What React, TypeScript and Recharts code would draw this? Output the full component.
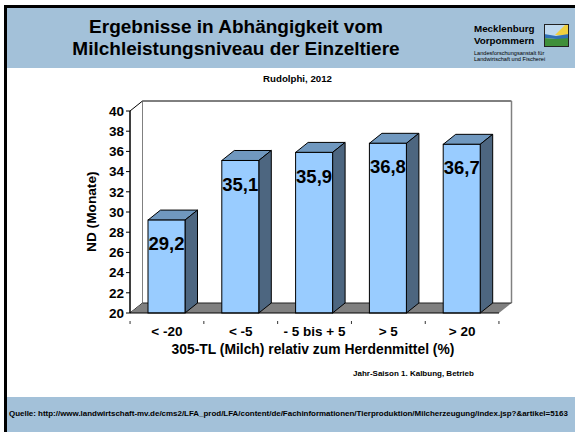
import React from "react";
import {
  BarChart,
  Bar,
  XAxis,
  YAxis,
  LabelList,
  Customized,
  usePlotArea,
} from "recharts";

const categories = ["< -20", "< -5", "- 5 bis + 5", "> 5", "> 20"];
const values = [29.2, 35.1, 35.9, 36.8, 36.7];
const yTicks = [20, 22, 24, 26, 28, 30, 32, 34, 36, 38, 40];

const data = categories.map((name, i) => ({ name, value: values[i] }));

const FONT = "'Liberation Sans', Arial, sans-serif";
const DX = 12.5;
const DY = 10;

const formatComma = (v: number) => v.toFixed(1).replace(".", ",");

// 3D walls behind the bars
function Walls() {
  const p = usePlotArea();
  if (!p) return null;
  const l = p.x;
  const r = p.x + p.width;
  const t = p.y;
  const b = p.y + p.height;
  return (
    <g>
      <polygon
        points={`${l},${t} ${l + DX},${t - DY} ${l + DX},${b - DY} ${l},${b}`}
        fill="#fff"
        stroke="#000"
      />
      <rect x={l + DX} y={t - DY} width={r - l} height={b - t} fill="#fff" />
      <line x1={l + DX} y1={t - DY} x2={r + DX} y2={t - DY} stroke="#000" />
      <line x1={r + DX} y1={t - DY} x2={r + DX} y2={b - DY} stroke="#808080" strokeWidth={1.5} />
      <polygon
        points={`${l},${b} ${l + DX},${b - DY} ${r + DX},${b - DY} ${r},${b}`}
        fill="#808080"
      />
      <line x1={l + DX} y1={b - DY} x2={r + DX} y2={b - DY} stroke="#222" />
    </g>
  );
}

function Bar3D(props: any) {
  const { x, y, width, height } = props;
  const r = x + width;
  const b = y + height;
  return (
    <g stroke="#000" strokeWidth={1}>
      <polygon
        points={`${x},${y} ${x + DX},${y - DY} ${r + DX},${y - DY} ${r},${y}`}
        fill="#7098BF"
      />
      <polygon
        points={`${r},${y} ${r + DX},${y - DY} ${r + DX},${b - DY} ${r},${b}`}
        fill="#4D6680"
      />
      <rect x={x} y={y} width={width} height={height} fill="#99CCFF" />
    </g>
  );
}

function XTick(props: any) {
  const { x, y, payload, index } = props;
  const half = 73.7 / 2;
  return (
    <g>
      <line x1={x - half} y1={y} x2={x - half} y2={y + 3} stroke="#333" />
      {index === categories.length - 1 && (
        <line x1={x + half} y1={y} x2={x + half} y2={y + 3} stroke="#333" />
      )}
      <text x={x} y={y + 15} textAnchor="middle" fontFamily={FONT} fontWeight="bold" fontSize={13.5} fill="#000">
        {payload.value}
      </text>
    </g>
  );
}

const txt = (extra: React.CSSProperties): React.CSSProperties => ({
  position: "absolute",
  fontFamily: FONT,
  fontWeight: "bold",
  color: "#000",
  whiteSpace: "nowrap",
  lineHeight: 1,
  ...extra,
});

export default function App() {
  return (
    <div style={{ position: "absolute", left: 0, top: 0, width: 575, height: 432, background: "#fff", overflow: "hidden" }}>
      {/* slide frame */}
      <div style={{ position: "absolute", left: 4, top: 5, width: 571, height: 3, background: "#000" }} />
      <div style={{ position: "absolute", left: 4, top: 5, width: 3, height: 427, background: "#000" }} />
      <div style={{ position: "absolute", left: 7, top: 8, width: 568, height: 60, background: "#A3C1D9" }} />
      <div style={{ position: "absolute", left: 7, top: 397, width: 568, height: 35, background: "#A3C1D9" }} />

      <div style={txt({ left: 0, width: 472, top: 16, fontSize: 19, textAlign: "center", lineHeight: "22px" })}>
        Ergebnisse in Abhängigkeit vom
        <br />
        Milchleistungsniveau der Einzeltiere
      </div>

      {/* logo */}
      <div style={txt({ left: 474, top: 23, fontSize: 9.8, lineHeight: "11.5px" })}>
        Mecklenburg
        <br />
        Vorpommern
      </div>
      <div style={txt({ left: 474, top: 50, fontSize: 5.6, lineHeight: "6px", fontWeight: "normal" })}>
        Landesforschungsanstalt für
        <br />
        Landwirtschaft und Fischerei
      </div>
      <svg style={{ position: "absolute", left: 544, top: 24, width: 25, height: 23 }} viewBox="0 0 25 23">
        <rect x={0} y={0} width={25} height={23} fill="#BFD9EE" />
        <polygon points="11,11 21,1 25,1 25,12" fill="#F0D040" />
        <polygon points="0,10 12,12 25,10 25,15 12,15 0,14" fill="#2F6FB5" />
        <polygon points="0,14 12,15 25,14 25,23 0,23" fill="#3F8F3A" />
        <rect x={0.5} y={0.5} width={24} height={22} fill="none" stroke="#222" />
      </svg>

      <div style={txt({ left: 0, width: 595, top: 74, fontSize: 9.7, textAlign: "center" })}>Rudolphi, 2012</div>

      <div style={{ position: "absolute", left: 0, top: 0 }}>
        <BarChart
          width={575}
          height={432}
          data={data}
          margin={{ top: 111, right: 76, bottom: 59, left: 0 }}
          barSize={37}
        >
          <Customized component={Walls} />
          <XAxis
            dataKey="name"
            height={60}
            interval={0}
            tickLine={false}
            axisLine={{ stroke: "#000" }}
            tick={<XTick />}
            label={{
              value: "305-TL (Milch) relativ zum Herdenmittel (%)",
              position: "insideTop",
              offset: 31,
              dx: -1.5,
              fontFamily: FONT,
              fontWeight: "bold",
              fontSize: 13.85,
              fill: "#000",
            }}
          />
          <YAxis
            width={130}
            domain={[20, 40]}
            ticks={yTicks}
            interval={0}
            tickSize={4}
            tickLine={{ stroke: "#000" }}
            axisLine={{ stroke: "#000" }}
            tick={{ fontFamily: FONT, fontWeight: "bold", fontSize: 13.5, fill: "#000" }}
            label={{
              value: "ND (Monate)",
              angle: -90,
              position: "insideLeft",
              offset: 91,
              dy: 40,
              fontFamily: FONT,
              fontWeight: "bold",
              fontSize: 13.7,
              fill: "#000",
            }}
          />
          <Bar dataKey="value" shape={<Bar3D />} isAnimationActive={false}>
            <LabelList
              dataKey="value"
              position="insideTop"
              offset={17}
              formatter={(v: any) => formatComma(v as number)}
              fontFamily={FONT}
              fontWeight="bold"
              fontSize={18.5}
              fill="#000"
            />
          </Bar>
        </BarChart>
      </div>

      <div style={txt({ left: 353, top: 370, fontSize: 8 })}>Jahr-Saison 1. Kalbung, Betrieb</div>
      <div style={txt({ left: 9, top: 410, fontSize: 7.95 })}>
        Quelle: http://www.landwirtschaft-mv.de/cms2/LFA_prod/LFA/content/de/Fachinformationen/Tierproduktion/Milcherzeugung/index.jsp?&artikel=5163
      </div>
    </div>
  );
}
